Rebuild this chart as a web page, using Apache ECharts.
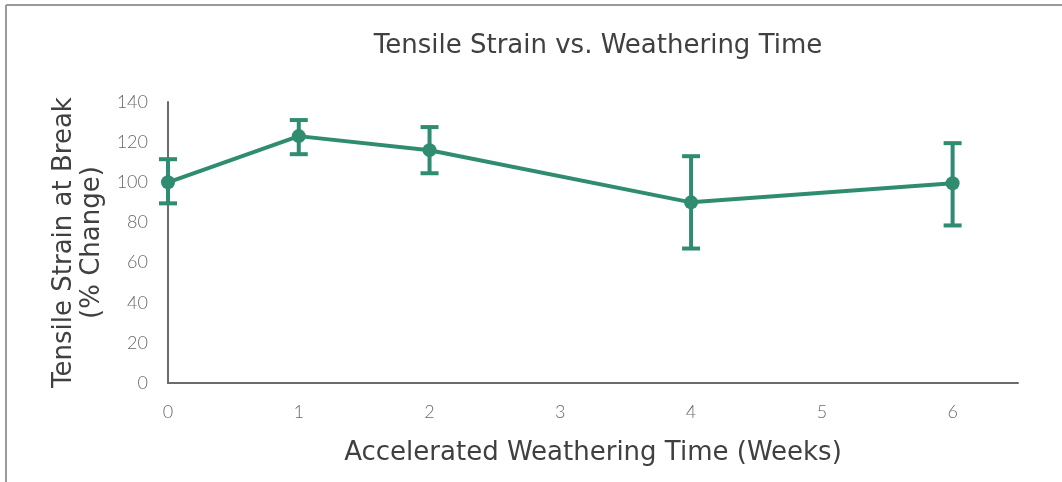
<!DOCTYPE html>
<html><head><meta charset="utf-8">
<script src="https://cdn.jsdelivr.net/npm/echarts@6/dist/echarts.min.js"></script>
<style>html,body{margin:0;padding:0;background:#fff}#c{width:1062px;height:482px}</style>
</head><body><div id="c"></div>
<script>
const weeks = [0, 1, 2, 4, 6];
const meanStrain = [100, 123, 116, 90, 99.5];
const errLow = [89.5, 114, 104.5, 67, 78.5];
const errHigh = [111.5, 131, 127.5, 113, 119.5];
const xTicks = [0, 1, 2, 3, 4, 5, 6];

const green = '#2f8c70';
const titleFont = 'DejaVu Sans';
const chart = echarts.init(document.getElementById('c'));
chart.setOption({
  backgroundColor: '#fff',
  animation: false,
  title: {
    text: 'Tensile Strain vs. Weathering Time',
    left: 593, top: 28, textAlign: 'center',
    textStyle: { fontFamily: titleFont, fontWeight: 'normal', fontSize: 26, color: '#404040' }
  },
  graphic: [
    { type: 'line', shape: { x1: 6, y1: 5, x2: 1062, y2: 5 }, style: { stroke: '#9a9a9a', lineWidth: 2 } },
    { type: 'line', shape: { x1: 6, y1: 5, x2: 6, y2: 482 }, style: { stroke: '#9a9a9a', lineWidth: 2 } }
  ],
  grid: { left: 168, right: 44, top: 102, bottom: 99 },
  xAxis: {
    type: 'value', min: 0, max: 6.5, interval: 1,
    name: 'Accelerated Weathering Time (Weeks)', nameLocation: 'middle', nameGap: 57,
    nameTextStyle: { fontFamily: titleFont, fontSize: 26, color: '#404040' },
    axisLine: { lineStyle: { color: '#6b6b6b', width: 2 } },
    axisTick: { show: false }, splitLine: { show: false },
    axisLabel: { showMaxLabel: false, margin: 20, fontFamily: 'Lato', fontWeight: 300, fontSize: 18, color: '#6a6a6a',
      formatter: v => xTicks.includes(v) ? String(v) : '' }
  },
  yAxis: {
    type: 'value', min: 0, max: 140, interval: 20,
    name: 'Tensile Strain at Break\n(% Change)', nameLocation: 'middle', nameRotate: 90, nameGap: 62,
    nameTextStyle: { fontFamily: titleFont, fontSize: 26, color: '#404040', lineHeight: 28 },
    axisLine: { show: true, lineStyle: { color: '#6b6b6b', width: 2 } },
    axisTick: { show: false }, splitLine: { show: false },
    axisLabel: { margin: 20, fontFamily: 'Lato', fontWeight: 300, fontSize: 18, color: '#6a6a6a' }
  },
  series: [
    {
      type: 'line', data: weeks.map((w, i) => [w, meanStrain[i]]),
      lineStyle: { color: green, width: 4 }, itemStyle: { color: green },
      symbol: 'circle', symbolSize: 14, z: 3
    },
    {
      type: 'custom', z: 2,
      data: weeks.map((w, i) => [w, errLow[i], errHigh[i]]),
      renderItem: (params, api) => {
        const lo = api.coord([api.value(0), api.value(1)]);
        const hi = api.coord([api.value(0), api.value(2)]);
        const hw = 9;
        const st = { stroke: green, lineWidth: 4 };
        return { type: 'group', children: [
          { type: 'line', shape: { x1: hi[0], y1: hi[1], x2: lo[0], y2: lo[1] }, style: st },
          { type: 'line', shape: { x1: hi[0] - hw, y1: hi[1], x2: hi[0] + hw, y2: hi[1] }, style: st },
          { type: 'line', shape: { x1: lo[0] - hw, y1: lo[1], x2: lo[0] + hw, y2: lo[1] }, style: st }
        ]};
      }
    }
  ]
});
</script></body></html>
